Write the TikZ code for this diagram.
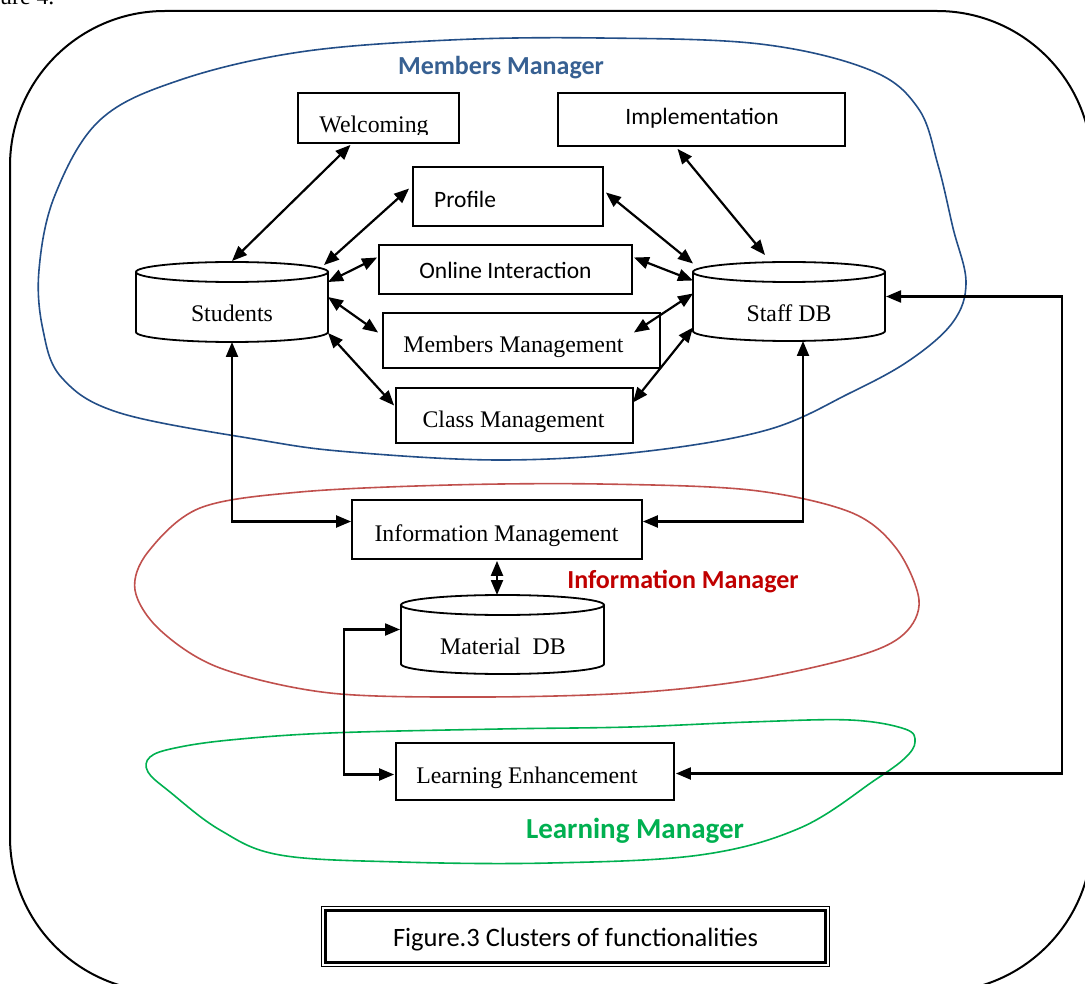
\documentclass[tikz,border=0pt]{standalone}
\usepackage{fontspec}
\setmainfont{Liberation Serif}
\newfontfamily\calfont{Carlito}
\usetikzlibrary{arrows.meta,calc}

\definecolor{mgrline}{RGB}{35,78,135}
\definecolor{mgrtext}{RGB}{55,96,146}
\definecolor{infline}{RGB}{192,80,77}
\definecolor{inftext}{RGB}{192,0,0}
\definecolor{lrnline}{RGB}{0,176,80}
\definecolor{lrntext}{RGB}{0,176,80}

\begin{document}
\begin{tikzpicture}[x=1pt,y=-1pt,
  box/.style={draw, line width=1.8pt, fill=white, inner sep=0pt},
  anchorbox/.style={inner sep=0pt, outer sep=0pt},
  cylline/.style={line width=1.8pt},
  dbl/.style={line width=2.2pt,
    {Triangle[length=15pt,width=12pt]}-{Triangle[length=15pt,width=12pt]}},
  serif/.style={inner sep=0pt, anchor=base, font=\fontsize{23.8}{28}\selectfont},
  sans/.style={inner sep=0pt, anchor=base, font=\calfont\fontsize{23.5}{28}\selectfont},
  cluster/.style={line width=1.6pt},
  clusterlabel/.style={inner sep=0pt, anchor=base, font=\calfont\bfseries\fontsize{26}{30}\selectfont}]

\useasboundingbox (0,0) rectangle (1085,984);
\clip (0,0) rectangle (1085,984);

% page text above the frame
\node[serif, anchor=base west] (pagetext) at (0,5) {ure 4.};

% outer frame
\draw[line width=2pt, rounded corners=155pt] (10,11) rectangle (1092,992);

% clusters
\draw[cluster, mgrline] plot[smooth cycle, tension=0.6] coordinates {
  (100,120) (180,80) (300,52) (450,40) (600,38) (760,44) (870,70) (918,108)
  (938,165) (953,228) (966,282) (953,322) (910,360) (850,393) (767,430)
  (640,452) (500,460) (350,452) (260,440) (120,413) (62,378) (43,330)
  (39,270) (55,195)};
\draw[cluster, infline] plot[smooth cycle, tension=0.55] coordinates {
  (200,508) (300,492) (450,485) (600,484) (750,490) (850,512) (896,548)
  (919,600) (904,634) (858,656) (750,680) (630,693) (480,697)
  (330,693) (220,668) (160,630) (135,590) (148,552)};
\draw[cluster, lrnline] plot[smooth cycle, tension=0.6] coordinates {
  (330,733) (500,729) (630,727) (750,722) (850,720) (905,729) (915,742)
  (905,758) (875,780) (800,828) (700,855) (550,863) (400,862) (280,855)
  (220,830) (170,792) (148,772) (150,757) (175,748) (230,740)};

\node[clusterlabel, text=mgrtext] (mgrlabel) at (501,74.5) {Members Manager};
\node[clusterlabel, text=inftext] (inflabel) at (683,588.5) {Information Manager};
\node[clusterlabel, text=lrntext, font=\calfont\bfseries\fontsize{29}{33}\selectfont] (lrnlabel) at (635,838.5) {Learning Manager};

% boxes
\node[box, minimum width=161pt, minimum height=50pt] (welcome) at (378.5,118) {};
\node[box, minimum width=287pt, minimum height=53pt] (impl) at (701.5,119.5) {};
\node[box, minimum width=190pt, minimum height=59pt] (profile) at (508,196.5) {};
\node[box, minimum width=253pt, minimum height=49pt] (online) at (505.5,269.5) {};
\node[box, minimum width=277pt, minimum height=55pt] (members) at (521.5,340.5) {};
\node[box, minimum width=237pt, minimum height=55pt] (classm) at (514.5,415.5) {};
\node[box, minimum width=290pt, minimum height=59pt] (infom) at (497,529.5) {};
\node[box, minimum width=278pt, minimum height=57pt] (learn) at (535,771.5) {};

% cylinders
\node[anchorbox, minimum width=192pt, minimum height=80pt] (students) at (232,302) {};
\filldraw[cylline, fill=white] (136,272) -- (136,332)
  arc[start angle=180, end angle=0, x radius=96, y radius=10] -- (328,272);
\filldraw[cylline, fill=white] (232,272) ellipse[x radius=96, y radius=10];

\node[anchorbox, minimum width=192pt, minimum height=79pt] (staff) at (789,301.5) {};
\filldraw[cylline, fill=white] (693,272) -- (693,331)
  arc[start angle=180, end angle=0, x radius=96, y radius=10] -- (885,272);
\filldraw[cylline, fill=white] (789,272) ellipse[x radius=96, y radius=10];

\node[anchorbox, minimum width=203pt, minimum height=79pt] (material) at (502.5,634.5) {};
\filldraw[cylline, fill=white] (401,605) -- (401,664)
  arc[start angle=180, end angle=0, x radius=101.5, y radius=10] -- (604,605);
\filldraw[cylline, fill=white] (502.5,605) ellipse[x radius=101.5, y radius=10];

% texts
\begin{scope}
  \clip ($(welcome.north west)+(1,1)$) rectangle ($(welcome.south east)+(-1,-9)$);
  \node[serif] (welcome-t) at (374,133) {Welcoming};
\end{scope}
\node[sans] (impl-t) at (702,125) {Implementation};
\node[sans, anchor=base west] (profile-t) at (434,208) {Profile};
\node[sans] (online-t) at (505.5,278.5) {Online Interaction};
\node[serif] (members-t) at (513.5,352.5) {Members Management};
\node[serif] (classm-t) at (513.5,428) {Class Management};
\node[serif] (infom-t) at (496.5,541) {Information Management};
\node[serif] (learn-t) at (527,783) {Learning Enhancement};
\node[serif] (students-t) at (232,321.5) {Students};
\node[serif] (staff-t) at (789,321.5) {Staff DB};
\node[serif] (material-t) at (503,654) {Material\ \ DB};

% connectors
\draw[dbl] ($(students.north)+(0,-1)$) -- ($(welcome.south)+(-28,1)$);
\draw[dbl] ($(students.north east)+(-4,3)$) -- ($(profile.west)+(-3,-8)$);
\draw[dbl] ($(students.east)+(0,-20)$) -- ($(online.west)+(-1,-12)$);
\draw[dbl] ($(students.east)+(0,-5)$) -- ($(members.west)+(-4,-8)$);
\draw[dbl] ($(students.east)+(0,31)$) -- ($(classm.west)+(-1,-10)$);
\draw[dbl] ($(profile.east)+(2,-4)$) -- ($(staff.west)+(0,-38)$);
\draw[dbl] ($(online.east)+(1,-12)$) -- ($(staff.west)+(0,-21)$);
\draw[dbl] ($(members.east)+(-27,-8)$) -- ($(staff.west)+(0,-8)$);
\draw[dbl] ($(classm.east)+(-1,-13)$) -- ($(staff.west)+(0,26)$);
\draw[dbl] ($(impl.south)+(-24,2)$) -- ($(staff.north)+(-24,-7)$);
\draw[dbl] (students.south) |- ($(infom.west)+(0,-8)$);
\draw[dbl] ($(staff.south)+(14,0)$) |- ($(infom.east)+(0,-8)$);
\draw[dbl] ($(infom.south)+(0,1)$) -- ($(material.north)+(-5.5,0)$);
\draw[dbl] ($(material.west)+(-1,-5)$) -- ++(-56,0) |- ($(learn.west)+(-1,3)$);
\draw[dbl] ($(staff.east)+(1,-5)$) -- ++(176,0) |- ($(learn.east)+(1,2)$);

% caption with thin-thick double frame
\node[draw, line width=1.2pt, inner sep=0pt, minimum width=508pt, minimum height=60pt] (capframe) at (575.5,936.5) {};
\node[draw, line width=3.5pt, inner sep=0pt, minimum width=500pt, minimum height=52pt] (caption) at (575.5,936.5) {};
\node[sans, font=\calfont\fontsize{26.5}{30}\selectfont] (caption-t) at (575.5,946) {Figure.3 Clusters of functionalities};

\end{tikzpicture}
\end{document}
